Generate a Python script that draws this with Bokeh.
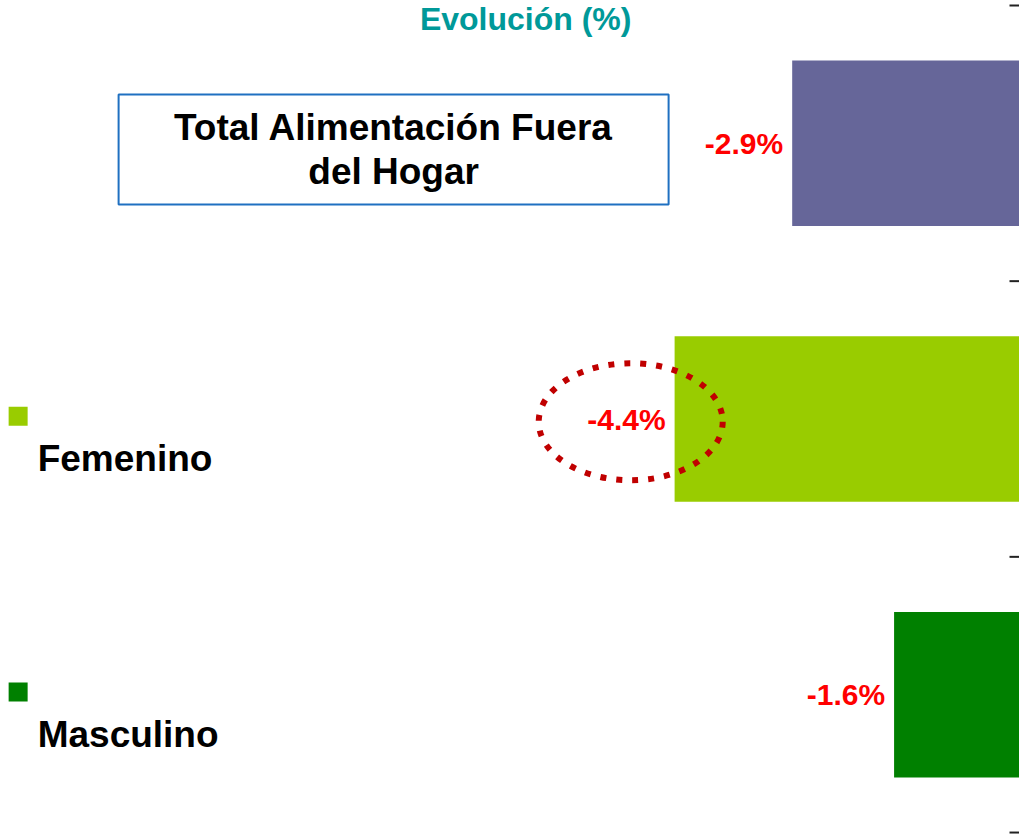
from bokeh.plotting import figure
from bokeh.models import Range1d, ColumnDataSource
from bokeh.core.properties import value
from bokeh.embed import file_html
from bokeh.resources import INLINE

# ---- data ----
categories = ["Total Alimentación Fuera del Hogar", "Femenino", "Masculino"]
values = [-2.9, -4.4, -1.6]
value_labels = ["-2.9%", "-4.4%", "-1.6%"]
colors = ["#666699", "#99CC00", "#008000"]
title_text = "Evolución (%)"
box_text = "Total Alimentación Fuera\ndel Hogar"

FONT = value("Liberation Sans")
idx = list(range(len(categories)))

W, H = 1019, 837
p = figure(width=W, height=H, output_backend="svg", toolbar_location=None,
           x_range=Range1d(-13.0, 0.0), y_range=Range1d(2.518, -0.518),
           x_axis_location=None, y_axis_location=None,
           min_border=0, min_border_right=0, min_border_top=0,
           min_border_left=0, min_border_bottom=0)
p.outline_line_color = None
p.xgrid.visible = False
p.ygrid.visible = False
p.background_fill_color = "white"

src = ColumnDataSource(dict(y=idx, v=values, lab=value_labels, c=colors))

# bars
p.hbar(y="y", left="v", right=0, height=0.6, fill_color="c", line_color=None, source=src)

# category boundary ticks at the zero line
bounds = [i - 0.5 for i in range(len(categories) + 1)]
p.scatter(x=[0] * len(bounds), y=bounds, marker="dash", size=20,
          line_color="#222222", line_width=2)

# value labels
p.text(x="v", y="y", text="lab", source=src, x_offset=-9,
       text_align="right", text_baseline="middle",
       text_color="#FF0000", text_font=FONT, text_font_style="bold",
       text_font_size="30px")

# dotted ellipse around the largest drop
imin = values.index(min(values))
p.ellipse(x=[values[imin] - 0.56], y=[idx[imin] + 0.01], width=184, height=117,
          width_units="screen", height_units="screen",
          fill_color=None, line_color="#C00000", line_width=6, line_dash="6 10")

# title
p.text(x=[-6.3], y=[-0.452], text=[title_text], text_align="center",
       text_baseline="alphabetic", text_color="#009999", text_font=FONT,
       text_font_style="bold", text_font_size="32px")

# box with first category
p.rect(x=[-7.985], y=[0.0225], width=550, height=110,
       width_units="screen", height_units="screen",
       fill_color=None, line_color="#1F70C1", line_width=2)
p.text(x=[-7.985], y=[0.0225], text=[box_text], text_align="center",
       text_baseline="middle", text_line_height=1.05, text_color="black",
       text_font=FONT, text_font_style="bold", text_font_size="37px")

# legend-like squares and labels for the other categories
p.scatter(x=[-12.775] * 2, y=[i - 0.01 for i in idx[1:]], marker="square", size=19,
          fill_color=colors[1:], line_color=None)
p.text(x=[-12.526] * 2, y=[i + 0.145 for i in idx[1:]], text=categories[1:],
       text_align="left", text_baseline="alphabetic", text_color="black",
       text_font=FONT, text_font_style="bold", text_font_size="37px")

open("out.html", "w").write(file_html(p, INLINE))
